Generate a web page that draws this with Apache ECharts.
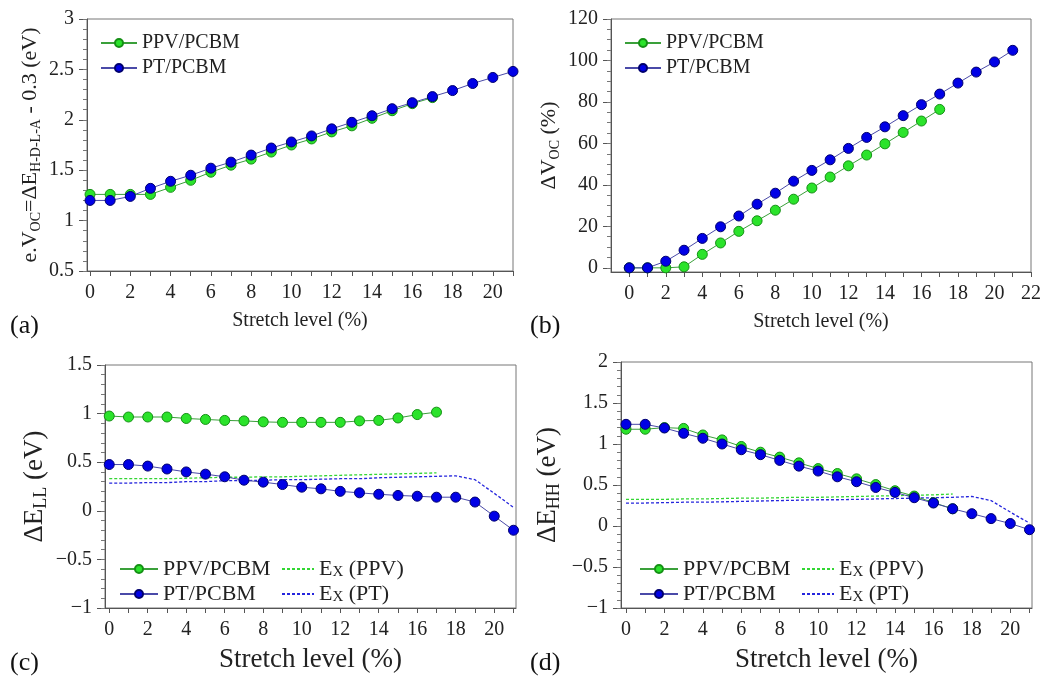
<!DOCTYPE html>
<html>
<head>
<meta charset="utf-8">
<script src="https://cdn.jsdelivr.net/npm/echarts@6/dist/echarts.min.js"></script>
<style>
html, body { margin: 0; padding: 0; background: #fff; }
#chart { width: 1044px; height: 686px; }
</style>
</head>
<body>
<div id="chart"></div>
<script>
// stretch levels (%)
var stretchPPV = [0, 1, 2, 3, 4, 5, 6, 7, 8, 9, 10, 11, 12, 13, 14, 15, 16, 17];
var stretchPT = [0, 1, 2, 3, 4, 5, 6, 7, 8, 9, 10, 11, 12, 13, 14, 15, 16, 17, 18, 19, 20, 21];

// (a) e.Voc (eV)
var vocPPV = [1.26, 1.26, 1.26, 1.26, 1.33, 1.40, 1.48, 1.55, 1.61, 1.68, 1.75, 1.81, 1.88, 1.94, 2.015, 2.09, 2.16, 2.22];
var vocPT = [1.20, 1.20, 1.24, 1.32, 1.39, 1.45, 1.52, 1.58, 1.65, 1.72, 1.78, 1.84, 1.91, 1.975, 2.04, 2.11, 2.17, 2.23, 2.29, 2.36, 2.42, 2.48];

// (b) delta Voc (%)
var dVocPPV = [0, 0, 0, 0.5, 6.5, 12, 17.6, 22.7, 27.8, 33.1, 38.5, 43.8, 49.2, 54.4, 59.8, 65.3, 70.8, 76.4];
var dVocPT = [0, 0, 3.2, 8.5, 14.2, 19.8, 25, 30.7, 36, 41.8, 47, 52.1, 57.6, 62.9, 68, 73.4, 78.7, 83.8, 89.1, 94.4, 99.3, 104.9];

// (c) delta E_LL (eV) and exciton energies
var dEllPPV = [0.975, 0.965, 0.965, 0.965, 0.95, 0.94, 0.93, 0.925, 0.915, 0.91, 0.91, 0.91, 0.91, 0.925, 0.93, 0.955, 0.99, 1.015];
var dEllPT = [0.476, 0.476, 0.46, 0.43, 0.40, 0.377, 0.35, 0.315, 0.295, 0.27, 0.243, 0.226, 0.20, 0.185, 0.17, 0.158, 0.15, 0.14, 0.14, 0.09, -0.055, -0.20];
var exPPV_LL = [0.33, 0.33, 0.33, 0.33, 0.335, 0.34, 0.345, 0.345, 0.35, 0.35, 0.355, 0.36, 0.365, 0.37, 0.375, 0.38, 0.385, 0.39];
var exPT_LL = [0.285, 0.285, 0.29, 0.29, 0.30, 0.30, 0.31, 0.31, 0.315, 0.32, 0.32, 0.325, 0.33, 0.33, 0.34, 0.345, 0.35, 0.355, 0.36, 0.32, 0.18, 0.035];

// (d) delta E_HH (eV) and exciton energies
var dEhhPPV = [1.18, 1.18, 1.20, 1.19, 1.11, 1.05, 0.97, 0.90, 0.84, 0.77, 0.70, 0.64, 0.575, 0.505, 0.43, 0.365, 0.285, 0.21];
var dEhhPT = [1.24, 1.24, 1.195, 1.13, 1.07, 1.00, 0.93, 0.87, 0.80, 0.73, 0.67, 0.60, 0.54, 0.47, 0.41, 0.345, 0.28, 0.21, 0.15, 0.09, 0.03, -0.045];
var exPPV_HH = [0.325, 0.325, 0.325, 0.33, 0.33, 0.335, 0.34, 0.34, 0.345, 0.35, 0.35, 0.355, 0.36, 0.365, 0.37, 0.375, 0.38, 0.39];
var exPT_HH = [0.28, 0.28, 0.285, 0.29, 0.29, 0.295, 0.30, 0.305, 0.31, 0.315, 0.32, 0.32, 0.325, 0.33, 0.335, 0.34, 0.345, 0.35, 0.36, 0.31, 0.17, 0.035];

// tick labels
var xTickAll = [0, 1, 2, 3, 4, 5, 6, 7, 8, 9, 10, 11, 12, 13, 14, 15, 16, 17, 18, 19, 20, 21, 22];
var xLabels = [0, 2, 4, 6, 8, 10, 12, 14, 16, 18, 20];
var xLabelsB = [0, 2, 4, 6, 8, 10, 12, 14, 16, 18, 20, 22];
var yLabelsA = [0.5, 1, 1.5, 2, 2.5, 3];
var yLabelsB = [0, 20, 40, 60, 80, 100, 120];
var yLabelsC = [-1, -0.5, 0, 0.5, 1, 1.5];
var yLabelsD = [-1, -0.5, 0, 0.5, 1, 1.5, 2];

var FONT = 'Liberation Serif';
var GREEN = '#2be32b', GREEN_EDGE = '#159015', GREEN_LINE = '#3aa03a';
var BLUE = '#0000e6', BLUE_EDGE = '#00006e', BLUE_LINE = '#4a4aa8';

function pts(xs, ys) {
    return ys.map(function (y, i) { return [xs[i], y]; });
}

function minorList(lo, hi, step) {
    var out = [];
    for (var v = lo; v <= hi + 1e-9; v += step) out.push(Math.round(v * 1000) / 1000);
    return out;
}

function fmt(v) {
    return String(v).replace('-', '\u2212');
}

var xAxes = [], yAxes = [], grids = [], series = [];

function addPanel(p) {
    var gi = grids.length;
    grids.push({ left: p.left, top: p.top, width: p.width, height: p.height, show: true, borderColor: '#777', borderWidth: 1 });
    xAxes.push({
        type: 'value', gridIndex: gi, min: p.xmin, max: p.xmax, position: 'bottom',
        name: 'Stretch level (%)', nameLocation: 'middle', nameGap: p.xNameGap,
        nameTextStyle: { fontFamily: FONT, fontSize: p.nameSize, color: '#222' },
        axisLine: { onZero: false, lineStyle: { color: '#555' } },
        axisTick: { customValues: xTickAll.filter(function (v) { return v <= p.xmax; }), length: 5, lineStyle: { color: '#555' } },
        axisLabel: { customValues: p.xLabels, fontFamily: FONT, fontSize: p.tickSize, color: '#222', margin: 12 },
        splitLine: { show: false }
    });
    var yi = yAxes.length;
    yAxes.push({
        type: 'value', gridIndex: gi, min: p.ymin, max: p.ymax, position: 'left',
        name: p.yName, nameLocation: 'middle', nameGap: p.yNameGap,
        nameTextStyle: {
            fontFamily: FONT, fontSize: p.yNameSize, color: '#222',
            rich: {
                m: { fontFamily: FONT, fontSize: p.yNameSize, color: '#222', lineHeight: p.yNameSize + 4 },
                s: { fontFamily: FONT, fontSize: Math.round(p.yNameSize * 0.65), color: '#222', verticalAlign: 'bottom', lineHeight: Math.round(p.yNameSize * 0.45) }
            }
        },
        axisLine: { show: true, onZero: false, lineStyle: { color: '#555' } },
        axisTick: { customValues: p.yLabels, length: 8, lineStyle: { color: '#555' } },
        axisLabel: { customValues: p.yLabels, formatter: fmt, fontFamily: FONT, fontSize: p.tickSize, color: '#222', margin: 13 },
        splitLine: { show: false }
    });
    yAxes.push({
        type: 'value', gridIndex: gi, min: p.ymin, max: p.ymax, position: 'left',
        axisLine: { show: false, onZero: false },
        axisTick: { show: true, customValues: p.yMinor, length: 4, lineStyle: { color: '#777' } },
        axisLabel: { show: false },
        splitLine: { show: false }
    });
    p.lines.forEach(function (s) {
        var dashed = s.dashed;
        series.push({
            name: s.name, type: 'line', xAxisIndex: gi, yAxisIndex: yi,
            data: pts(s.xs, s.ys),
            symbol: dashed ? 'none' : 'circle',
            showSymbol: !dashed,
            symbolSize: p.symbolSize,
            lineStyle: { color: dashed ? s.dashColor : s.lineColor, width: dashed ? 1.3 : 1, type: dashed ? [3, 2] : 'solid' },
            itemStyle: { color: s.color, borderColor: s.edge, borderWidth: 1 },
            emphasis: { disabled: true },
            z: dashed ? 1 : 2
        });
    });
}

function solid(name, xs, ys, isPPV) {
    return { name: name, xs: xs, ys: ys, color: isPPV ? GREEN : BLUE, edge: isPPV ? GREEN_EDGE : BLUE_EDGE, lineColor: isPPV ? GREEN_LINE : BLUE_LINE };
}
function dash(name, xs, ys, isPPV) {
    return { name: name, xs: xs, ys: ys, dashed: true, dashColor: isPPV ? '#33d633' : '#2525dd', color: isPPV ? '#33d633' : '#2525dd', edge: 'none' };
}

addPanel({
    left: 87, top: 19, width: 426, height: 252, xmin: -0.15, xmax: 21,
    ymin: 0.5, ymax: 3, yLabels: yLabelsA, yMinor: minorList(0.5, 3, 0.1), xLabels: xLabels,
    tickSize: 20, nameSize: 20, xNameGap: 40, symbolSize: 10,
    yName: '{m|e.V}{s|OC}{m|=\u0394E}{s|H-D-L-A}{m| - 0.3 (eV)}', yNameSize: 22, yNameGap: 44,
    lines: [solid('PPV/PCBM', stretchPPV, vocPPV, true), solid('PT/PCBM', stretchPT, vocPT, false)]
});
addPanel({
    left: 611, top: 19, width: 421, height: 253, xmin: -1, xmax: 22,
    ymin: -2, ymax: 120, yLabels: yLabelsB, yMinor: minorList(0, 120, 5), xLabels: xLabelsB,
    tickSize: 20, nameSize: 20, xNameGap: 40, symbolSize: 10,
    yName: '{m|\u0394V}{s|OC}{m| (%)}', yNameSize: 22, yNameGap: 49,
    lines: [solid('PPV/PCBM', stretchPPV, dVocPPV, true), solid('PT/PCBM', stretchPT, dVocPT, false)]
});
addPanel({
    left: 105, top: 365, width: 411, height: 243, xmin: -0.22, xmax: 21.13,
    ymin: -1, ymax: 1.5, yLabels: yLabelsC, yMinor: minorList(-1, 1.5, 0.1), xLabels: xLabels,
    tickSize: 20, nameSize: 27, xNameGap: 38, symbolSize: 10,
    yName: '{m|\u0394E}{s|LL}{m| (eV)}', yNameSize: 27, yNameGap: 55,
    lines: [dash('Ex (PPV)', stretchPPV, exPPV_LL, true), dash('Ex (PT)', stretchPT, exPT_LL, false),
        solid('PPV/PCBM', stretchPPV, dEllPPV, true), solid('PT/PCBM', stretchPT, dEllPT, false)]
});
addPanel({
    left: 621, top: 362, width: 411, height: 246, xmin: -0.26, xmax: 21.13,
    ymin: -1, ymax: 2, yLabels: yLabelsD, yMinor: minorList(-1, 2, 0.1), xLabels: xLabels,
    tickSize: 20, nameSize: 27, xNameGap: 38, symbolSize: 10,
    yName: '{m|\u0394E}{s|HH}{m| (eV)}', yNameSize: 27, yNameGap: 58,
    lines: [dash('Ex (PPV)', stretchPPV, exPPV_HH, true), dash('Ex (PT)', stretchPT, exPT_HH, false),
        solid('PPV/PCBM', stretchPPV, dEhhPPV, true), solid('PT/PCBM', stretchPT, dEhhPT, false)]
});

function legendFmt(name) {
    if (name.indexOf('Ex') === 0) return '{m|E}{s|X}{m|' + name.slice(2) + '}';
    return '{m|' + name + '}';
}
function legend(names, left, top, size, w, noSymbol) {
    var lg = {
        data: names, left: left, top: top, orient: 'vertical', selectedMode: false,
        itemWidth: w, itemHeight: 10, itemGap: 25 - size, formatter: legendFmt,
        textStyle: {
            fontFamily: FONT, fontSize: size, color: '#222',
            rich: {
                m: { fontFamily: FONT, fontSize: size, color: '#222' },
                s: { fontFamily: FONT, fontSize: Math.round(size * 0.7), color: '#222', verticalAlign: 'bottom', lineHeight: Math.round(size * 0.6) }
            }
        }
    };
    if (noSymbol) lg.itemStyle = { opacity: 0 };
    return lg;
}

var option = {
    animation: false,
    backgroundColor: '#fff',
    grid: grids,
    xAxis: xAxes,
    yAxis: yAxes,
    series: series,
    legend: [
        legend(['PPV/PCBM', 'PT/PCBM'], 95, 28, 20, 36),
        legend(['PPV/PCBM', 'PT/PCBM'], 619, 28, 20, 36),
        legend(['PPV/PCBM', 'PT/PCBM'], 114, 553, 22, 38),
        legend(['Ex (PPV)', 'Ex (PT)'], 276, 553, 22, 32, true),
        legend(['PPV/PCBM', 'PT/PCBM'], 634, 553, 22, 38),
        legend(['Ex (PPV)', 'Ex (PT)'], 796, 553, 22, 32, true)
    ],
    graphic: [
        { type: 'text', left: 10, top: 313, style: { text: '(a)', font: '26px "Liberation Serif"', fill: '#111' } },
        { type: 'text', left: 530, top: 313, style: { text: '(b)', font: '26px "Liberation Serif"', fill: '#111' } },
        { type: 'text', left: 10, top: 650, style: { text: '(c)', font: '26px "Liberation Serif"', fill: '#111' } },
        { type: 'text', left: 530, top: 650, style: { text: '(d)', font: '26px "Liberation Serif"', fill: '#111' } }
    ]
};

var chart = echarts.init(document.getElementById('chart'));
chart.setOption(option);
</script>
</body>
</html>
